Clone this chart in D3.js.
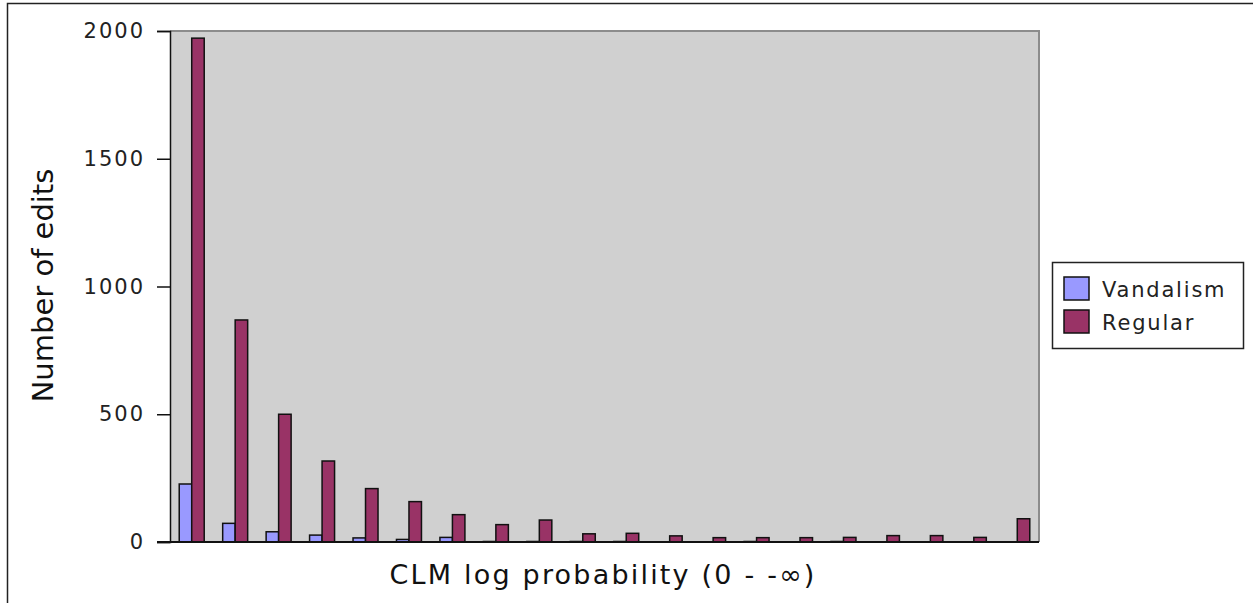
<!DOCTYPE html>
<html>
<head>
<meta charset="utf-8">
<script src="https://cdn.jsdelivr.net/npm/d3@7"></script>
<style>
  body { margin: 0; background: #fff; }
  svg { display: block; font-family: "DejaVu Sans", sans-serif; }
</style>
</head>
<body>
<svg id="chart" width="1253" height="603"></svg>
<script>
// bins of CLM log probability, from 0 towards -infinity (no labels shown)
const bins = ["1", "2", "3", "4", "5", "6", "7", "8", "9", "10",
              "11", "12", "13", "14", "15", "16", "17", "18", "19", "20"];
const seriesNames = ["Vandalism", "Regular"];
const vandalism = [227, 73, 40, 27, 16, 10, 18, 2, 2, 2, 2, 0, 0, 2, 0, 2, 0, 0, 0, 0];
const regular = [1972, 869, 500, 317, 209, 158, 107, 68, 86, 32, 34, 24, 17, 17, 17, 18, 25, 25, 18, 91];
const yTicks = [0, 500, 1000, 1500, 2000];
const colors = ["#9999ff", "#993366"];

const svg = d3.select("#chart");

// outer frame
svg.append("rect")
  .attr("x", 7.5).attr("y", 3.5)
  .attr("width", 1260).attr("height", 620)
  .attr("fill", "none").attr("stroke", "#222").attr("stroke-width", 1.5);

const plotLeft = 170, plotRight = 1039, plotTop = 31, plotBottom = 542;

const x = d3.scaleBand()
  .domain(bins)
  .range([plotLeft, plotRight])
  .paddingInner(0.425)
  .paddingOuter(0.2125);

const xs = d3.scaleBand()
  .domain(seriesNames)
  .range([0, x.bandwidth()]);

const y = d3.scaleLinear().domain([0, 2000]).range([plotBottom, plotTop]);

// plot background
svg.append("rect")
  .attr("x", plotLeft).attr("y", plotTop)
  .attr("width", plotRight - plotLeft).attr("height", plotBottom - plotTop)
  .attr("fill", "#d0d0d0");

// top and right border of the plot area
svg.append("path")
  .attr("d", `M${plotLeft},${plotTop} H${plotRight} V${plotBottom}`)
  .attr("fill", "none").attr("stroke", "#8c8c8c").attr("stroke-width", 2);

const rows = bins.map((b, i) => ({ bin: b, values: [vandalism[i], regular[i]] }));

const groups = svg.append("g")
  .selectAll("g")
  .data(rows)
  .join("g")
  .attr("transform", d => `translate(${x(d.bin)},0)`);

groups.selectAll("rect")
  .data(d => d.values
    .map((v, k) => ({ name: seriesNames[k], value: v, k: k }))
    .filter(e => e.value > 0))
  .join("rect")
  .attr("x", d => xs(d.name))
  .attr("y", d => y(d.value))
  .attr("width", xs.bandwidth())
  .attr("height", d => y(0) - y(d.value))
  .attr("fill", d => colors[d.k])
  .attr("stroke", "#111")
  .attr("stroke-width", 1.5);

// y axis
const yAxis = svg.append("g")
  .attr("transform", `translate(${plotLeft},0)`)
  .call(d3.axisLeft(y).tickValues(yTicks).tickFormat(d3.format("d"))
    .tickSize(13).tickPadding(12));
yAxis.select(".domain").attr("stroke", "#111").attr("stroke-width", 1.5);
yAxis.selectAll(".tick line").attr("stroke", "#111").attr("stroke-width", 1.5);
yAxis.selectAll(".tick text")
  .attr("font-size", 21).attr("fill", "#222")
  .attr("letter-spacing", 2)
  .attr("font-family", "DejaVu Sans");

// x axis baseline
svg.append("line")
  .attr("x1", plotLeft - 13).attr("x2", plotRight)
  .attr("y1", y(0)).attr("y2", y(0))
  .attr("stroke", "#111").attr("stroke-width", 2);

// axis titles
svg.append("text")
  .attr("transform", `translate(53,${(plotTop + plotBottom) / 2 - 1}) rotate(-90)`)
  .attr("text-anchor", "middle")
  .attr("font-size", 29).attr("fill", "#111")
  .text("Number of edits");

svg.append("text")
  .attr("x", 603).attr("y", 584)
  .attr("text-anchor", "middle")
  .attr("font-size", 27).attr("fill", "#111")
  .attr("letter-spacing", 2.2)
  .text("CLM log probability (0 - -∞)");

// legend
const legend = svg.append("g").attr("transform", "translate(1052,262)");
legend.append("rect")
  .attr("x", 0.5).attr("y", 0.5).attr("width", 191).attr("height", 86)
  .attr("fill", "#fff").attr("stroke", "#222").attr("stroke-width", 1.5);
const items = legend.selectAll("g.item")
  .data(seriesNames)
  .join("g")
  .attr("class", "item")
  .attr("transform", (d, i) => `translate(12,${15 + i * 33})`);
items.append("rect")
  .attr("width", 25).attr("height", 23)
  .attr("fill", (d, i) => colors[i])
  .attr("stroke", "#111").attr("stroke-width", 1.5);
items.append("text")
  .attr("x", 38).attr("y", 20)
  .attr("font-size", 21).attr("fill", "#222")
  .attr("letter-spacing", 1.8)
  .text(d => d);
</script>
</body>
</html>
